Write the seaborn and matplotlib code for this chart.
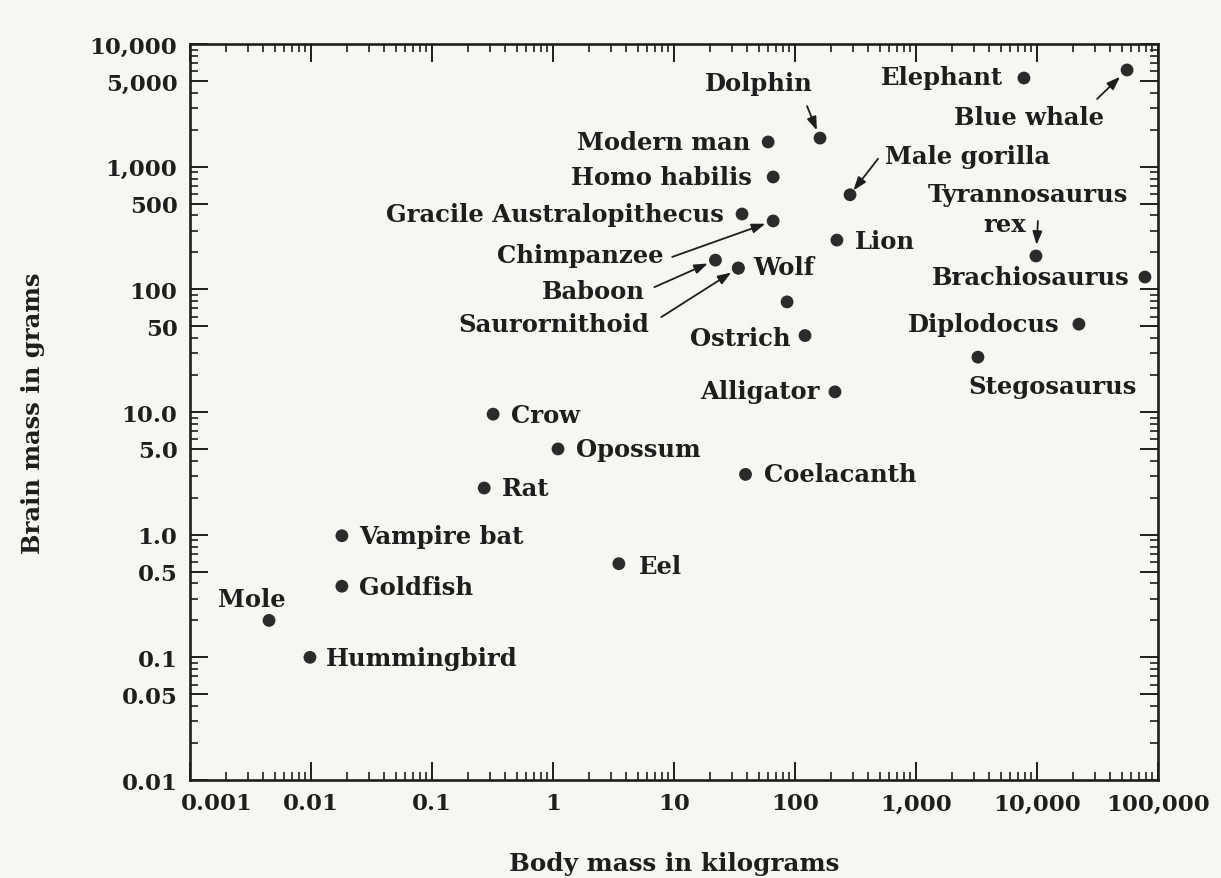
import numpy as np
import pandas as pd
import matplotlib
matplotlib.use("Agg")
import matplotlib.pyplot as plt
import matplotlib.ticker as mticker
import matplotlib.transforms as mtransforms
import seaborn as sns

# ---- data: body mass (kg) and brain mass (g) -------------------------------
species = [
    "Mole", "Hummingbird", "Goldfish", "Vampire bat", "Rat", "Crow", "Opossum",
    "Eel", "Coelacanth", "Alligator", "Ostrich", "", "Wolf", "Saurornithoid",
    "Baboon", "Chimpanzee", "Gracile Australopithecus", "Homo habilis",
    "Modern man", "Dolphin", "Male gorilla", "Lion", "Elephant", "Blue whale",
    "Tyrannosaurus\nrex", "Brachiosaurus", "Diplodocus", "Stegosaurus",
]
body_kg = [
    0.0045, 0.0098, 0.018, 0.018, 0.27, 0.32, 1.1,
    3.5, 39, 214, 121, 86, 34, 34,
    22, 66, 36.5, 66,
    60, 161, 285, 222, 7800, 55500,
    9800, 78000, 22200, 3250,
]
brain_g = [
    0.20, 0.10, 0.38, 0.98, 2.4, 9.6, 5.0,
    0.58, 3.1, 14.6, 42, 79, 149, 149,
    173, 361, 411, 824,
    1590, 1710, 590, 252, 5280, 6140,
    187, 126, 52, 28,
]

x_ticks = [0.001, 0.01, 0.1, 1, 10, 100, 1000, 10000, 100000]
x_tick_labels = ["0.001", "0.01", "0.1", "1", "10", "100", "1,000", "10,000", "100,000"]
y_ticks = [0.01, 0.05, 0.1, 0.5, 1, 5, 10, 50, 100, 500, 1000, 5000, 10000]
y_tick_labels = ["0.01", "0.05", "0.1", "0.5", "1.0", "5.0", "10.0", "50", "100",
                 "500", "1,000", "5,000", "10,000"]

# ---- label placement (pixel offsets from each dot; y up) -------------------
# name: (list of (dx, dy) per text line, ha, arrow_start or None, arrow_shrink)
layout = {
    "Mole": ([(-17, 21)], "center", None, 0),
    "Hummingbird": ([(16, -1)], "left", None, 0),
    "Goldfish": ([(17, -1)], "left", None, 0),
    "Vampire bat": ([(17, 0)], "left", None, 0),
    "Rat": ([(18, 0)], "left", None, 0),
    "Crow": ([(18, -1)], "left", None, 0),
    "Opossum": ([(18, 0)], "left", None, 0),
    "Eel": ([(20, -2)], "left", None, 0),
    "Coelacanth": ([(18, 0)], "left", None, 0),
    "Alligator": ([(-15, 1)], "right", None, 0),
    "Ostrich": ([(-15, -2)], "right", None, 0),
    "Wolf": ([(15, 1)], "left", None, 0),
    "Saurornithoid": ([(-89, -56)], "right", (-77, -49), 6),
    "Baboon": ([(-71, -31)], "right", (-61, -27), 6),
    "Chimpanzee": ([(-110, -34)], "right", (-101, -36), 6),
    "Gracile Australopithecus": ([(-18, 0)], "right", None, 0),
    "Homo habilis": ([(-21, 0)], "right", None, 0),
    "Modern man": ([(-18, 0)], "right", None, 0),
    "Dolphin": ([(-61, 55)], "center", (-13, 32), 6),
    "Male gorilla": ([(35, 39)], "left", (28, 36), 4),
    "Lion": ([(18, -1)], "left", None, 0),
    "Elephant": ([(-21, 1)], "right", None, 0),
    "Blue whale": ([(-98, -47)], "center", (-30, -29), 7),
    "Tyrannosaurus\nrex": ([(-8, 62), (-31, 32)], "center", (2, 35), 8),
    "Brachiosaurus": ([(-15, 0)], "right", None, 0),
    "Diplodocus": ([(-19, 0)], "right", None, 0),
    "Stegosaurus": ([(-10, -29)], "left", None, 0),
}

BG = "#f6f6f5"
INK = "#1e1e1e"
W, H = 1221, 879

sns.set_theme(style="ticks")
plt.rcParams["font.family"] = ["DejaVu Serif"]
plt.rcParams["font.weight"] = "bold"
plt.rcParams["text.color"] = INK
plt.rcParams["axes.labelcolor"] = INK
plt.rcParams["xtick.color"] = INK
plt.rcParams["ytick.color"] = INK

fig = plt.figure(figsize=(W / 100, H / 100), dpi=100, facecolor=BG)
ax = fig.add_axes([190 / W, 1 - 781 / H, (1158 - 190) / W, (781 - 45) / H])
ax.set_facecolor(BG)

df = pd.DataFrame({"species": species, "body_kg": body_kg, "brain_g": brain_g})
sns.scatterplot(data=df, x="body_kg", y="brain_g", ax=ax, s=85, color="#2b2b2b",
                edgecolor="none", linewidth=0, legend=False, zorder=3)

ax.set_xscale("log")
ax.set_yscale("log")
ax.set_xlim(1e-3, 1e5)
ax.set_ylim(1e-2, 1e4)

ax.set_xticks(x_ticks, labels=x_tick_labels)
ax.set_yticks(y_ticks, labels=y_tick_labels)
ax.xaxis.set_minor_locator(mticker.LogLocator(base=10, subs=np.arange(2, 10), numticks=30))
ax.yaxis.set_minor_locator(mticker.LogLocator(base=10, subs=np.arange(2, 10), numticks=30))
ax.xaxis.set_minor_formatter(mticker.NullFormatter())
ax.yaxis.set_minor_formatter(mticker.NullFormatter())

ax.tick_params(which="both", direction="in", top=True, right=True, color=INK)
ax.tick_params(which="major", length=13, width=1.4, labelsize=16.5, pad=9)
ax.tick_params(which="minor", length=6, width=1.2)
for sp in ax.spines.values():
    sp.set_visible(True)
    sp.set_linewidth(1.9)
    sp.set_color(INK)

# nudge the first body-mass label clear of the brain-mass labels
first = ax.get_xticklabels()[0]
first.set_transform(first.get_transform()
                    + mtransforms.ScaledTranslation(27 / 100, 0, fig.dpi_scale_trans))

ax.set_xlabel("Body mass in kilograms", fontsize=17.7, fontweight="bold")
ax.set_ylabel("Brain mass in grams", fontsize=17.5, fontweight="bold")
ax.xaxis.set_label_coords(0.5, -0.0965)
ax.yaxis.set_label_coords(-0.150, 0.5)

for name, bx, by in zip(species, body_kg, brain_g):
    if name not in layout:
        continue
    offsets, ha, start, shrink = layout[name]
    for line, (dx, dy) in zip(name.split("\n"), offsets):
        ax.annotate(line, xy=(bx, by), xytext=(dx, dy), textcoords="offset pixels",
                    ha=ha, va="center", fontsize=17.5, fontweight="bold",
                    color=INK, zorder=4)
    if start is not None:
        ax.annotate("", xy=(bx, by), xytext=start, textcoords="offset pixels",
                    arrowprops=dict(arrowstyle="-|>,head_length=0.5,head_width=0.18",
                                    color=INK, lw=1.3, shrinkA=0, shrinkB=shrink,
                                    mutation_scale=16),
                    zorder=4)

fig.savefig("out.png", dpi=100, facecolor=BG)
